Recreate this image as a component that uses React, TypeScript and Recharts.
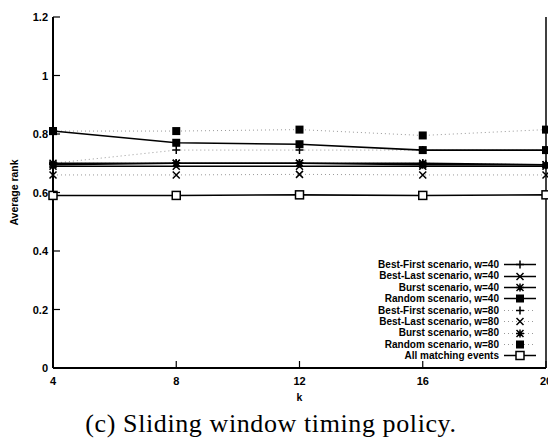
import { Legend, Line, LineChart, XAxis, YAxis } from 'recharts';

const kValues = [4, 8, 12, 16, 20];
const yTicks = [0, 0.2, 0.4, 0.6, 0.8, 1, 1.2];

const bestFirst40 = [0.7, 0.7, 0.7, 0.7, 0.695];
const bestLast40 = [0.69, 0.69, 0.69, 0.69, 0.69];
const burst40 = [0.695, 0.7, 0.7, 0.695, 0.695];
const random40 = [0.81, 0.77, 0.765, 0.745, 0.745];
const bestFirst80 = [0.7, 0.745, 0.745, 0.745, 0.745];
const bestLast80 = [0.66, 0.66, 0.662, 0.66, 0.66];
const burst80 = [0.7, 0.7, 0.7, 0.7, 0.695];
const random80 = [0.81, 0.81, 0.815, 0.795, 0.815];
const allMatching = [0.59, 0.59, 0.592, 0.59, 0.592];

type Shape = 'plus' | 'cross' | 'star' | 'box' | 'openBox';
type Series = { key: string; name: string; values: number[]; shape: Shape; dotted: boolean };

const series: Series[] = [
  { key: 'bf40', name: 'Best-First scenario, w=40', values: bestFirst40, shape: 'plus', dotted: false },
  { key: 'bl40', name: 'Best-Last scenario, w=40', values: bestLast40, shape: 'cross', dotted: false },
  { key: 'bu40', name: 'Burst scenario, w=40', values: burst40, shape: 'star', dotted: false },
  { key: 'ra40', name: 'Random scenario, w=40', values: random40, shape: 'box', dotted: false },
  { key: 'bf80', name: 'Best-First scenario, w=80', values: bestFirst80, shape: 'plus', dotted: true },
  { key: 'bl80', name: 'Best-Last scenario, w=80', values: bestLast80, shape: 'cross', dotted: true },
  { key: 'bu80', name: 'Burst scenario, w=80', values: burst80, shape: 'star', dotted: true },
  { key: 'ra80', name: 'Random scenario, w=80', values: random80, shape: 'box', dotted: true },
  { key: 'all', name: 'All matching events', values: allMatching, shape: 'openBox', dotted: false },
];

const data = kValues.map((k, i) => {
  const row: Record<string, number> = { k };
  series.forEach((s) => (row[s.key] = s.values[i]));
  return row;
});

const FONT = '"Liberation Sans", Arial, sans-serif';

function Marker({ shape, cx, cy }: { shape: Shape; cx: number; cy: number }) {
  const p = `M${cx - 4},${cy}H${cx + 4}M${cx},${cy - 4}V${cy + 4}`;
  const x = `M${cx - 3.5},${cy - 3.5}L${cx + 3.5},${cy + 3.5}M${cx - 3.5},${cy + 3.5}L${cx + 3.5},${cy - 3.5}`;
  if (shape === 'plus') return <path d={p} stroke="#000" strokeWidth={1.5} fill="none" />;
  if (shape === 'cross') return <path d={x} stroke="#000" strokeWidth={1.5} fill="none" />;
  if (shape === 'star') return <path d={p + x} stroke="#000" strokeWidth={1.5} fill="none" />;
  if (shape === 'box') return <rect x={cx - 4} y={cy - 4} width={8} height={8} fill="#000" />;
  return <rect x={cx - 4} y={cy - 4} width={8} height={8} fill="#fff" stroke="#000" strokeWidth={1.5} />;
}

const makeDot = (shape: Shape) => (props: any) =>
  <Marker key={`${shape}-${props.index}`} shape={shape} cx={props.cx} cy={props.cy} />;

const LeftTick = ({ x, y, payload }: any) => (
  <g>
    <line x1={x} y1={y} x2={x + 7} y2={y} stroke="#000" strokeWidth={1.2} />
    <text x={x - 5} y={y + 4} textAnchor="end" fontFamily={FONT} fontWeight="bold" fontSize={11} fill="#000">
      {payload.value}
    </text>
  </g>
);
const RightTick = ({ x, y }: any) => <line x1={x} y1={y} x2={x - 7} y2={y} stroke="#000" strokeWidth={1.2} />;
const TopTick = ({ x, y }: any) => <line x1={x} y1={y} x2={x} y2={y + 7} stroke="#000" strokeWidth={1.2} />;
const BottomTick = ({ x, y, payload }: any) => (
  <g>
    <line x1={x} y1={y} x2={x} y2={y - 7} stroke="#000" strokeWidth={1.2} />
    <text x={x} y={y + 17} textAnchor="middle" fontFamily={FONT} fontWeight="bold" fontSize={11} fill="#000">
      {payload.value}
    </text>
  </g>
);

function renderLegend() {
  return (
    <div style={{ fontFamily: FONT, fontWeight: 'bold', fontSize: 10, color: '#000' }}>
      {series.map((s) => (
        <div key={s.key} style={{ display: 'flex', alignItems: 'center', justifyContent: 'flex-end', height: 11.4, lineHeight: '11.4px' }}>
          <span>{s.name}</span>
          <svg width={36} height={11} style={{ marginLeft: 3 }}>
            {s.dotted ? (
              <line x1={2} y1={5.5} x2={34} y2={5.5} stroke="#999" strokeWidth={1} strokeDasharray="1 3" />
            ) : (
              <line x1={2} y1={5.5} x2={34} y2={5.5} stroke="#000" strokeWidth={1.5} />
            )}
            <Marker shape={s.shape} cx={18} cy={5.5} />
          </svg>
        </div>
      ))}
    </div>
  );
}

export default function App() {
  return (
    <div style={{ width: 548 }}>
      <LineChart width={548} height={400} data={data} margin={{ top: 9, right: 9, bottom: 0, left: 0 }}>
        <XAxis
          dataKey="k"
          type="number"
          domain={[4, 20]}
          ticks={kValues}
          height={40}
          tickSize={0}
          tickMargin={0}
          tick={BottomTick}
          axisLine={{ stroke: '#000', strokeWidth: 2 }}
          label={(p: any) => (
            <text x={p.viewBox.x + p.viewBox.width / 2} y={p.viewBox.y + 33} textAnchor="middle" fontFamily={FONT} fontWeight="bold" fontSize={10.5} fill="#000">
              k
            </text>
          )}
        />
        <XAxis xAxisId="top" orientation="top" dataKey="k" type="number" domain={[4, 20]} ticks={kValues} height={0} tickSize={0} tickMargin={0} tick={TopTick} axisLine={{ stroke: '#000', strokeWidth: 1.5 }} />
        <YAxis
          type="number"
          domain={[0, 1.2]}
          ticks={yTicks}
          width={45}
          tickSize={0}
          tickMargin={0}
          tick={LeftTick}
          axisLine={{ stroke: '#000', strokeWidth: 2 }}
          label={(p: any) => (
            <text
              x={10}
              y={p.viewBox.y + p.viewBox.height / 2}
              transform={`rotate(-90, 10, ${p.viewBox.y + p.viewBox.height / 2})`}
              textAnchor="middle"
              fontFamily={FONT}
              fontWeight="bold"
              fontSize={10.5}
              fill="#000"
            >
              Average rank
            </text>
          )}
        />
        <YAxis yAxisId="right" orientation="right" type="number" domain={[0, 1.2]} ticks={yTicks} width={1} tickSize={0} tickMargin={0} tick={RightTick} axisLine={{ stroke: '#000', strokeWidth: 1.5 }} />
        <Legend content={renderLegend} layout="vertical" align="center" verticalAlign="middle" wrapperStyle={{ left: 330, top: 251, width: 200 }} />
        {series
          .filter((s) => s.dotted)
          .map((s) => (
            <Line key={s.key} dataKey={s.key} name={s.name} stroke="#999" strokeWidth={1} strokeDasharray="1 3" dot={makeDot(s.shape)} isAnimationActive={false} />
          ))}
        {series
          .filter((s) => !s.dotted)
          .map((s) => (
            <Line key={s.key} dataKey={s.key} name={s.name} stroke="#000" strokeWidth={1.6} dot={makeDot(s.shape)} isAnimationActive={false} />
          ))}
      </LineChart>
      <div style={{ width: 526, textAlign: 'center', fontFamily: '"Liberation Serif", "Times New Roman", serif', fontSize: 26, letterSpacing: 0.6, lineHeight: '30px', marginTop: 1 }}>
        (c) Sliding window timing policy.
      </div>
    </div>
  );
}
